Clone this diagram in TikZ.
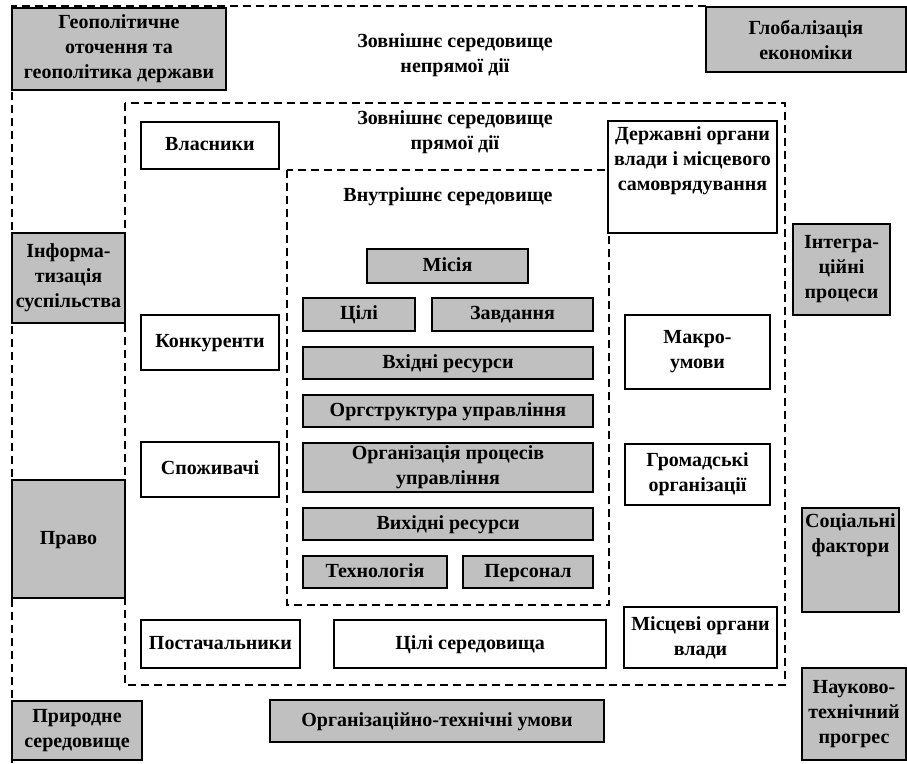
\documentclass[tikz,border=0pt]{standalone}
\usepackage{fontspec}
\setmainfont{Liberation Serif}
\usepackage{tikz}
\usetikzlibrary{positioning}
\definecolor{boxgray}{RGB}{192,192,192}
\tikzset{font={\fontsize{20pt}{25}\selectfont\bfseries}}

\begin{document}
\begin{tikzpicture}[x=1pt,y=-1pt,
graybox/.style={draw,line width=1.2pt,fill=boxgray,align=center,inner sep=2pt},
whitebox/.style={draw,line width=1.2pt,fill=white,align=center,inner sep=2pt},
oneline/.style={text height=14pt,text depth=4pt},
frame/.style={line width=1.3pt,dash pattern=on 8pt off 5pt},
toptext/.style={anchor=north,align=center,yshift=-3pt}
]
\useasboundingbox (0,0) rectangle (907,763);

\draw[frame] (12,763) -- (12,6) -- (706,6);
\draw[frame] (125,103) rectangle (785,685);
\draw[frame] (287,170) rectangle (609,605);

\node[align=center] (indirect) at (455,55) {Зовнішнє середовище\\непрямої дії};
\node[align=center] (direct) at (455,132) {Зовнішнє середовище\\прямої дії};
\node[oneline] (internal) at (448,196) {Внутрішнє середовище};

\node[graybox,minimum width=214pt,minimum height=82pt] (geo) at (119,49) {Геополітичне\\оточення та\\геополітика держави};
\node[graybox,minimum width=200pt,minimum height=65pt] (glob) at (806,39.5) {Глобалізація\\економіки};
\node[graybox,minimum width=113pt,minimum height=90pt] (inform) at (68.5,278) {Інформа-\\тизація\\суспільства};
\node[graybox,minimum width=97pt,minimum height=91pt] (integr) at (841.5,269.5) {Інтегра-\\ційні\\процеси};
\node[graybox,oneline,minimum width=113pt,minimum height=118pt] (law) at (68.5,539) {Право};
\node[graybox,minimum width=97pt,minimum height=104pt,
  label={[toptext]north:Соціальні\\фактори}] (social) at (850.5,560) {};
\node[graybox,minimum width=130pt,minimum height=59pt] (nature) at (77,730.5) {Природне\\середовище};
\node[graybox,oneline,minimum width=334pt,minimum height=42pt] (orgtech) at (437,721) {Організаційно-технічні умови};
\node[graybox,minimum width=104pt,minimum height=92pt] (scitech) at (854,714) {Науково-\\технічний\\прогрес};

\node[whitebox,oneline,minimum width=138pt,minimum height=47pt] (owners) at (210,145.5) {Власники};
\node[whitebox,minimum width=169pt,minimum height=112pt,
  label={[toptext]north:Державні органи\\влади і місцевого\\самоврядування}] (govt) at (692.5,177) {};
\node[whitebox,oneline,minimum width=138pt,minimum height=55pt] (rivals) at (210,342.5) {Конкуренти};
\node[whitebox,oneline,minimum width=138pt,minimum height=55pt] (buyers) at (210,469.5) {Споживачі};
\node[whitebox,oneline,minimum width=159pt,minimum height=48pt] (suppliers) at (220.5,644) {Постачальники};
\node[whitebox,oneline,minimum width=272pt,minimum height=48pt] (envgoals) at (470,644) {Цілі середовища};
\node[whitebox,minimum width=153pt,minimum height=61pt] (local) at (700.5,637.5) {Місцеві органи\\влади};
\node[whitebox,minimum width=145pt,minimum height=74pt] (macro) at (697.5,352) {Макро-\\умови};
\node[whitebox,minimum width=145pt,minimum height=61pt] (public) at (697.5,474.5) {Громадські\\організації};

\node[graybox,oneline,minimum width=161pt,minimum height=34pt] (mission) at (447.5,266) {Місія};
\node[graybox,oneline,minimum width=112pt,minimum height=33pt] (goals) at (359,314.5) {Цілі};
\node[graybox,oneline,minimum width=161pt,minimum height=33pt] (tasks) at (512.5,314.5) {Завдання};
\node[graybox,oneline,minimum width=290pt,minimum height=32pt] (inres) at (448,363) {Вхідні ресурси};
\node[graybox,oneline,minimum width=290pt,minimum height=32pt] (orgstr) at (448,411) {Оргструктура управління};
\node[graybox,minimum width=290pt,minimum height=49pt] (procs) at (448,467.5) {Організація процесів\\управління};
\node[graybox,oneline,minimum width=290pt,minimum height=32pt] (outres) at (448,524) {Вихідні ресурси};
\node[graybox,oneline,minimum width=144pt,minimum height=32pt] (tech) at (375,572) {Технологія};
\node[graybox,oneline,minimum width=130pt,minimum height=32pt] (staff) at (528,572) {Персонал};

\end{tikzpicture}
\end{document}
